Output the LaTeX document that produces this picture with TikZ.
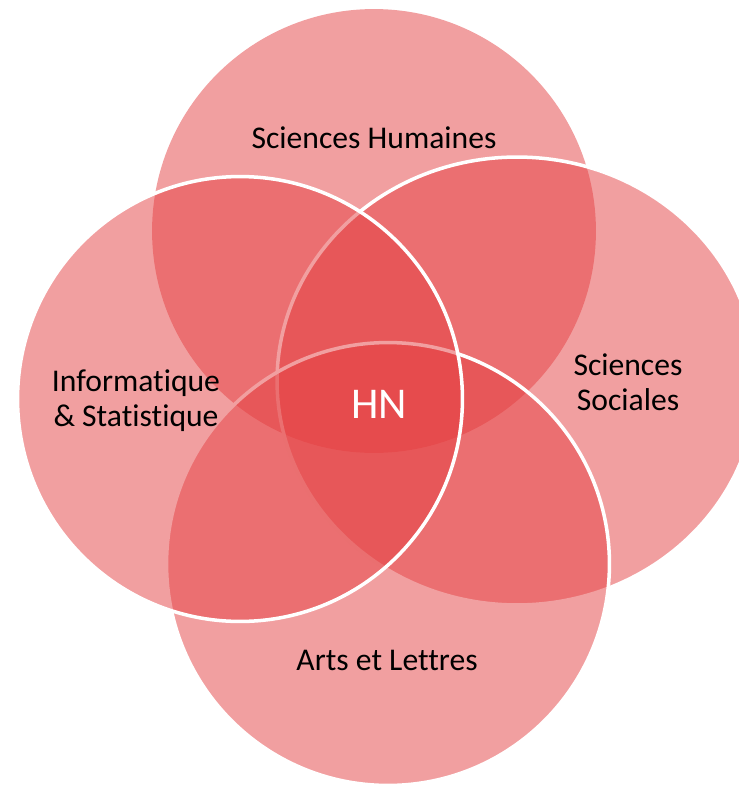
\documentclass[tikz,border=0pt]{standalone}
\usepackage{fontspec}
\setmainfont{Carlito}[Ligatures={NoCommon}]
\usetikzlibrary{shapes.geometric}
\definecolor{hnred}{RGB}{228,64,66}

\begin{document}
\begin{tikzpicture}[x=0.02cm, y=-0.02cm,
    disc/.style={fill=hnred, fill opacity=0.5, draw=white, line width=2pt, inner sep=0pt, outer sep=0pt},
    fieldname/.style={font=\fontsize{18}{19.8}\selectfont, align=center, anchor=base}]
    \useasboundingbox (0,0) rectangle (739,788);
    \clip (0,0) rectangle (739,788);

    % the four fields
    \node[disc, draw=none, circle, minimum size=8.88cm] (hum) at (374,231) {};
    \node[disc, ellipse, minimum width=9.6cm, minimum height=8.96cm] (soc) at (517,381) {};
    \node[disc, circle, minimum size=8.86cm] (art) at (388,564) {};
    \node[disc, circle, minimum size=8.9cm] (info) at (240,399) {};

    % names (base = last line)
    \node[fieldname] (humtext) at (374,148) {Sciences Humaines};
    \node[fieldname] (soctext) at (628,410) {Sciences\\Sociales};
    \node[fieldname] (arttext) at (387,670) {Arts et Lettres};
    \node[fieldname] (infotext) at (136,426) {Informatique\\\& Statistique};
    \node[fieldname, text=white, font=\fontsize{25}{25}\selectfont] (hn) at (379,418) {HN};
\end{tikzpicture}
\end{document}
